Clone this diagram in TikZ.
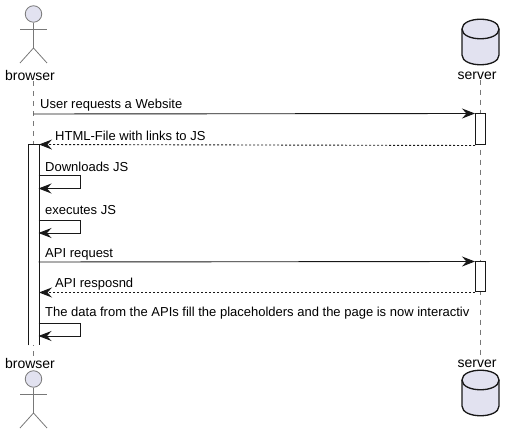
\documentclass[tikz,border=0pt]{standalone}
\usepackage{fontspec}
\setmainfont{Liberation Sans}
\usetikzlibrary{arrows.meta, positioning, calc}
\definecolor{cFill}{RGB}{226,226,240}
\definecolor{cLine}{RGB}{24,24,24}
\definecolor{cLife}{RGB}{120,120,120}
\tikzset{
  party/.style={inner sep=0pt, font=\fontsize{14}{14}\selectfont},
  msgtext/.style={anchor=west, inner sep=0pt, font=\fontsize{13}{13}\selectfont},
  actbox/.style={draw=cLine, fill=white, line width=1pt, minimum width=10pt, inner sep=0pt},
  msgline/.style={cLine, line width=0.9pt, -{Stealth[length=13pt, width=10pt, inset=4.5pt]}},
  msgback/.style={msgline, dash pattern=on 2pt off 2pt},
  lifeline/.style={cLife, line width=0.8pt, dash pattern=on 5pt off 5pt},
  stick/.style={draw=cLife, line width=0.8pt},
  cyl/.style={draw=cLine, fill=cFill, line width=1.3pt}
}
\begin{document}
\begin{tikzpicture}[x=1pt, y=-1pt]
  \useasboundingbox (0,0) rectangle (514,435);

  % parties
  \node[party] (browserTop) at (30,75.5) {browser};
  \node[party] (serverTop) at (477,75.5) {server};
  \node[party] (browserBot) at (30,363.5) {browser};
  \node[party] (serverBot) at (477,363.5) {server};
  \coordinate (browserX) at (33.5,0);
  \coordinate (serverX) at (480.5,0);

  % lifelines
  \draw[lifeline] (browserX |- browserTop.south) -- (browserX |- browserBot.north);
  \draw[lifeline] (serverX |- serverTop.south) -- (serverX |- serverBot.north);

  % actors
  \foreach \y/\tag in {0/A, 365/B} {
    \node[circle, stick, fill=cFill, minimum size=16.5pt, inner sep=0pt] (head\tag) at (33.5,14+\y) {};
    \coordinate (hip\tag) at (33.5,48+\y);
    \draw[stick] (head\tag.south) -- (hip\tag);
    \draw[stick] (20,29+\y) -- (47,29+\y);
    \draw[stick] (20,63+\y) -- (hip\tag) -- (47,63+\y);
  }

  % databases
  \foreach \y in {0, 351} {
    \draw[cyl] (462,29+\y) .. controls (462,16+\y) and (499,16+\y) .. (499,29+\y)
      -- (499,55+\y) .. controls (499,68+\y) and (462,68+\y) .. (462,55+\y) -- cycle;
    \draw[cyl, fill=none] (462,29+\y) .. controls (462,42+\y) and (499,42+\y) .. (499,29+\y);
  }

  % activations
  \node[actbox, draw=none, minimum height=200pt] (actBrowser) at (33.5,245) {};
  \draw[cLine, line width=1pt] (actBrowser.south west) |- (actBrowser.north east) -- (actBrowser.south east);
  \node[actbox, minimum height=31pt] (actServerA) at (480.5,129.5) {};
  \node[actbox, minimum height=30pt] (actServerB) at (480.5,277) {};

  % messages
  \coordinate (msgStart) at (33.5,114);
  \coordinate (apiStart) at (38.5,262);
  \draw[msgline] (msgStart) -- (actServerA.north west);
  \draw[msgback] (actServerA.south west) -- (actBrowser.north east);
  \draw[msgline] (apiStart) -- (actServerB.north west);
  \draw[msgback] (actServerB.south west) -- (actServerB.south west -| actBrowser.east);

  % self calls
  \foreach \y/\tag in {175.5/A, 220/B, 323/C} {
    \coordinate (self\tag) at (38.5,\y);
    \draw[msgline] (self\tag) -- ++(42,0) -- ++(0,13) -- ++(-42,0);
  }

  % labels
  \node[msgtext] (lblUser) at (40,105.5) {User requests a Website};
  \node[msgtext] (lblHtml) at (55,135.5) {HTML-File with links to JS};
  \node[msgtext] (lblDown) at (45,166.5) {Downloads JS};
  \node[msgtext] (lblExec) at (45,210) {executes JS};
  \node[msgtext] (lblApi) at (45,254.5) {API request};
  \node[msgtext] (lblResp) at (55,284) {API resposnd};
  \node[msgtext] (lblData) at (45,313.5) {The data from the APIs fill the placeholders and the page is now interactiv};
\end{tikzpicture}
\end{document}
